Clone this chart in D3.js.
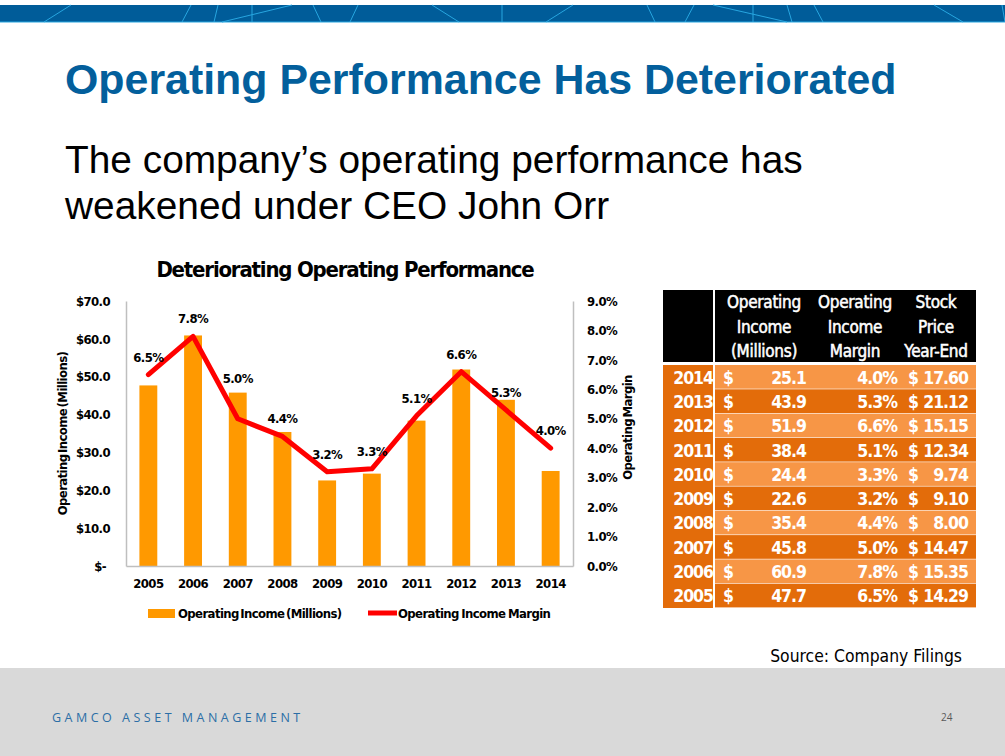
<!DOCTYPE html>
<html>
<head>
<meta charset="utf-8">
<script src="https://cdn.jsdelivr.net/npm/d3@7"></script>
<style>
  body { margin: 0; background: #ffffff; }
  svg { display: block; }
  .cond { font-family: "DejaVu Sans Condensed", "DejaVu Sans", sans-serif; font-weight: bold; }
</style>
</head>
<body>
<svg id="slide" width="1005" height="756"></svg>
<script>
// ---- data ----
var years = ["2005", "2006", "2007", "2008", "2009", "2010", "2011", "2012", "2013", "2014"];
var income = [47.7, 60.9, 45.8, 35.4, 22.6, 24.4, 38.4, 51.9, 43.9, 25.1];
var margin = [0.065, 0.078, 0.050, 0.044, 0.032, 0.033, 0.051, 0.066, 0.053, 0.040];
var stockPrice = ["14.29", "15.35", "14.47", "8.00", "9.10", "9.74", "12.34", "15.15", "21.12", "17.60"];
var incomeTicks = [0, 10, 20, 30, 40, 50, 60, 70];
var marginTicks = [0, 0.01, 0.02, 0.03, 0.04, 0.05, 0.06, 0.07, 0.08, 0.09];
var tableHeaders = [
  ["Operating", "Income", "(Millions)"],
  ["Operating", "Income", "Margin"],
  ["Stock", "Price", "Year-End"]
];
// banner decoration: top x, bottom x
var bannerLines = [[71, 44], [191, 182], [218, 214], [252, 252], [292, 222], [313, 321], [358, 350],
  [432, 459], [502, 502], [573, 546], [647, 655], [694, 685], [713, 787], [753, 753], [787, 792],
  [814, 823], [934, 963], [1002, 1005]];

(function() {
var svg = d3.select("#slide");

// fit a text element's font-size so it spans a given width
function fitWidth(sel, target) {
  var size = parseFloat(sel.style("font-size"));
  var w = sel.node().getComputedTextLength();
  sel.style("font-size", (size * target / w) + "px");
}

/********** BANNER **********/
svg.append("rect").attr("x", 0).attr("y", 5).attr("width", 1005).attr("height", 17).attr("fill", "#005C99");
svg.append("g").selectAll("line").data(bannerLines).enter().append("line")
  .attr("x1", function(d) { return d[0]; }).attr("y1", 5)
  .attr("x2", function(d) { return d[1]; }).attr("y2", 22)
  .attr("stroke", "#27A6E0").attr("stroke-width", 1);
svg.append("line").attr("x1", 0).attr("x2", 1005).attr("y1", 22).attr("y2", 22)
  .attr("stroke", "#27A6E0").attr("stroke-width", 1);

/********** TITLES **********/
var title = svg.append("text").attr("x", 65).attr("y", 94)
  .style("font-family", "'Liberation Sans', Arial, sans-serif").style("font-weight", "bold")
  .style("font-size", "40px").attr("fill", "#035F9C")
  .text("Operating Performance Has Deteriorated");
fitWidth(title, 832);

var sub1 = svg.append("text").attr("x", 65).attr("y", 173)
  .style("font-family", "'Liberation Sans', Arial, sans-serif").style("font-size", "36px").attr("fill", "#000")
  .text("The company\u2019s operating performance has");
fitWidth(sub1, 738);
svg.append("text").attr("x", 65).attr("y", 219)
  .style("font-family", "'Liberation Sans', Arial, sans-serif").style("font-size", sub1.style("font-size")).attr("fill", "#000")
  .text("weakened under CEO John Orr");

/********** CHART **********/
var plotLeft = 126, plotRight = 573, plotTop = 301, plotBottom = 566;

var x = d3.scaleBand().domain(years).range([plotLeft, plotRight]).paddingInner(0.6).paddingOuter(0.3);
var y = d3.scaleLinear().domain([0, 70]).range([plotBottom, plotTop]);
var y2 = d3.scaleLinear().domain([0, 0.09]).range([plotBottom, plotTop]);

svg.append("text").attr("class", "cond").attr("x", 345).attr("y", 277)
  .attr("text-anchor", "middle").style("font-size", "22px").style("letter-spacing", "-1.2px")
  .attr("fill", "#000")
  .text("Deteriorating Operating Performance");

// bars
svg.append("g").selectAll("rect").data(years).enter().append("rect")
  .attr("x", function(d) { return x(d); })
  .attr("width", x.bandwidth())
  .attr("y", function(d, i) { return y(income[i]); })
  .attr("height", function(d, i) { return plotBottom - y(income[i]); })
  .attr("fill", "#FF9900");

// axes
var axisColor = "#BFBFBF";
function styleAxis(g) {
  g.attr("font-family", null).attr("font-size", null);
  g.select(".domain").attr("stroke", axisColor).attr("stroke-width", 1.5);
  g.selectAll("text").style("font-size", "13px").style("letter-spacing", "-0.6px").attr("fill", "#000");
}

var leftAxis = svg.append("g").attr("class", "cond").attr("transform", "translate(" + plotLeft + ",0)")
  .call(d3.axisLeft(y).tickValues(incomeTicks).tickSize(0).tickPadding(16)
    .tickFormat(function(d) { return d === 0 ? "$-" : "$" + d.toFixed(1); }));
styleAxis(leftAxis);
leftAxis.selectAll("text").attr("dx", function(d) { return d === 0 ? -4 : 0; });

var rightAxis = svg.append("g").attr("class", "cond").attr("transform", "translate(" + plotRight + ",0)")
  .call(d3.axisRight(y2).tickValues(marginTicks).tickSize(0).tickPadding(14)
    .tickFormat(d3.format(".1%")));
styleAxis(rightAxis);

var bottomAxis = svg.append("g").attr("class", "cond").attr("transform", "translate(0," + plotBottom + ")")
  .call(d3.axisBottom(x).tickSize(0).tickPadding(13));
styleAxis(bottomAxis);

// axis titles
svg.append("text").attr("class", "cond")
  .attr("transform", "translate(67," + ((plotTop + plotBottom) / 2) + ") rotate(-90)")
  .attr("text-anchor", "middle").style("font-size", "13px").style("letter-spacing", "-0.6px")
  .style("word-spacing", "-2px")
  .text("Operating Income (Millions)");
svg.append("text").attr("class", "cond")
  .attr("transform", "translate(632," + ((plotTop + plotBottom) / 2 - 6) + ") rotate(-90)")
  .attr("text-anchor", "middle").style("font-size", "13px").style("letter-spacing", "-0.6px")
  .style("word-spacing", "-2px")
  .text("Operating Margin");

// margin line
var line = d3.line()
  .x(function(d, i) { return x(years[i]) + x.bandwidth() / 2; })
  .y(function(d) { return y2(d); });
svg.append("path").datum(margin).attr("d", line)
  .attr("fill", "none").attr("stroke", "#FF0000").attr("stroke-width", 5)
  .attr("stroke-linejoin", "round").attr("stroke-linecap", "round");

// labels sit above each point; where the line drops steeply into a point the label is lifted clear of it
svg.append("g").selectAll("text").data(margin).enter().append("text").attr("class", "cond")
  .attr("x", function(d, i) { return x(years[i]) + x.bandwidth() / 2; })
  .attr("y", function(d, i) {
    var drop = i > 0 ? y2(d) - y2(margin[i - 1]) : 0;
    return y2(d) - 13 - (drop > 60 ? 23 : 0);
  })
  .attr("text-anchor", "middle").style("font-size", "13px").style("letter-spacing", "-0.6px")
  .attr("fill", "#000")
  .text(function(d) { return d3.format(".1%")(d); });

// legend
svg.append("rect").attr("x", 148).attr("y", 609).attr("width", 27).attr("height", 9).attr("fill", "#FF9900");
svg.append("text").attr("class", "cond").attr("x", 178).attr("y", 618)
  .style("font-size", "13px").style("letter-spacing", "-0.6px").style("word-spacing", "-2px")
  .text("Operating Income (Millions)");
svg.append("line").attr("x1", 368).attr("x2", 397).attr("y1", 613).attr("y2", 613)
  .attr("stroke", "#FF0000").attr("stroke-width", 5);
svg.append("text").attr("class", "cond").attr("x", 398).attr("y", 618)
  .style("font-size", "13px").style("letter-spacing", "-0.6px").style("word-spacing", "-1px")
  .text("Operating Income Margin");

/********** TABLE **********/
var tLeft = 663, tYearRight = 713, tRight = 976, tHeadTop = 290, tHeadBottom = 362, tRowTop = 365;
var rowH = (608 - tRowTop) / years.length;
var rows = years.map(function(yr, i) { return i; }).reverse();

var table = svg.append("g").attr("class", "cond");
table.append("rect").attr("x", tLeft).attr("y", tHeadTop).attr("width", tYearRight - tLeft)
  .attr("height", tHeadBottom - tHeadTop).attr("fill", "#000");
table.append("rect").attr("x", tYearRight + 2).attr("y", tHeadTop).attr("width", tRight - tYearRight - 2)
  .attr("height", tHeadBottom - tHeadTop).attr("fill", "#000");
table.append("rect").attr("x", tLeft).attr("y", tRowTop).attr("width", tYearRight - tLeft)
  .attr("height", rowH * years.length).attr("fill", "#E36C0A");

var headerCenters = [764, 855, 936];
tableHeaders.forEach(function(lines, c) {
  lines.forEach(function(txt, k) {
    table.append("text").attr("x", headerCenters[c]).attr("y", 308 + k * 24.5)
      .attr("text-anchor", "middle").style("font-size", "17px").attr("fill", "#fff")
      .style("font-weight", "normal").style("letter-spacing", "-0.3px")
      .style("stroke", "#fff").style("stroke-width", 0.5)
      .text(txt);
  });
});

var row = table.selectAll("g.row").data(rows).enter().append("g")
  .attr("transform", function(d, k) { return "translate(0," + (tRowTop + k * rowH) + ")"; });
row.append("rect").attr("x", tYearRight + 2).attr("width", tRight - tYearRight - 2)
  .attr("height", rowH - 0.6)
  .attr("fill", function(d, k) { return k % 2 === 0 ? "#F79646" : "#E36C0A"; });

function cell(xPos, anchor, fn) {
  row.append("text").attr("x", xPos).attr("y", rowH / 2 + 6.5)
    .attr("text-anchor", anchor).style("font-size", "17.5px").style("letter-spacing", "-1px")
    .attr("fill", "#fff")
    .text(fn);
}
cell(713, "end", function(d) { return years[d]; });
cell(723, "start", function() { return "$"; });
cell(806, "end", function(d) { return income[d].toFixed(1); });
cell(897, "end", function(d) { return d3.format(".1%")(margin[d]); });
cell(908, "start", function() { return "$"; });
cell(968, "end", function(d) { return stockPrice[d]; });

/********** FOOTER **********/
var source = svg.append("text").attr("x", 962).attr("y", 662).attr("text-anchor", "end")
  .style("font-family", "'DejaVu Sans Condensed', sans-serif").style("font-size", "17px").attr("fill", "#000")
  .text("Source: Company Filings");
fitWidth(source, 192);

svg.append("rect").attr("x", 0).attr("y", 668).attr("width", 1005).attr("height", 88).attr("fill", "#D9D9D9");
svg.append("text").attr("x", 52).attr("y", 722)
  .style("font-family", "'Open Sans', sans-serif").style("font-size", "12.5px").style("letter-spacing", "3.5px")
  .attr("fill", "#2B6EA6").text("GAMCO ASSET MANAGEMENT");
svg.append("text").attr("x", 941).attr("y", 721)
  .style("font-family", "'Open Sans', sans-serif").style("font-size", "10px")
  .attr("fill", "#595959").text("24");
})();
</script>
</body>
</html>
